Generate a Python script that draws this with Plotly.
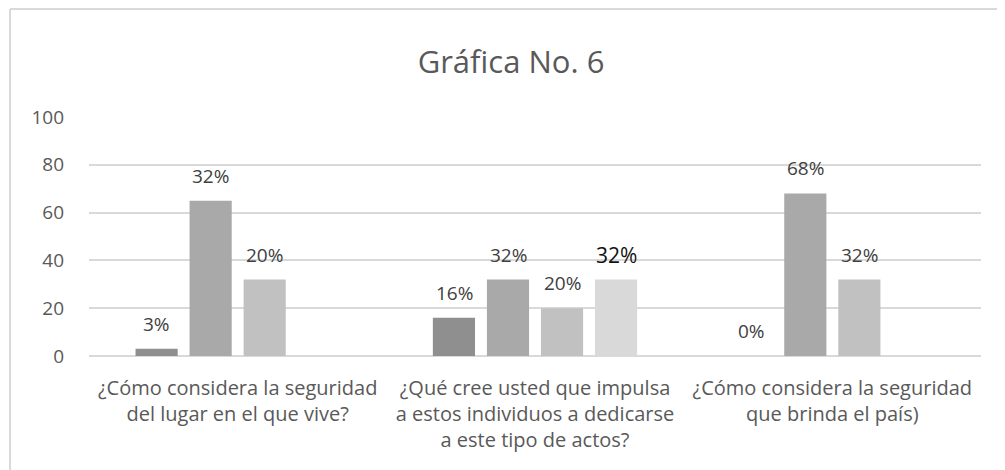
import plotly.graph_objects as go

categories = [
    "¿Cómo considera la seguridad<br>del lugar en el que vive?",
    "¿Qué cree usted que impulsa<br>a estos individuos a dedicarse<br>a este tipo de actos?",
    "¿Cómo considera la seguridad<br>que brinda el país)",
]
serie1 = [3, 16, 0]
serie2 = [65, 32, 68]
serie3 = [32, 20, 32]
serie4 = [None, 32, None]
labels1 = ["3%", "16%", "0%"]
labels2 = ["32%", "32%", "68%"]
labels3 = ["20%", "20%", "32%"]
labels4 = ["", "32%", ""]

series = [serie1, serie2, serie3, serie4]
labels = [labels1, labels2, labels3, labels4]
colors = ["#8f8f8f", "#a9a9a9", "#c1c1c1", "#d9d9d9"]

FONT = "Open Sans, Liberation Sans, Arial, sans-serif"
# page body adds an 8px offset, so the figure is kept inside the window
W, H = 997, 462
L, R, T, B = 81, 24, 109, 114

fig = go.Figure()
for i, (vals, col) in enumerate(zip(series, colors)):
    fig.add_trace(go.Bar(x=categories, y=vals, marker=dict(color=col, line=dict(width=0)),
                         name=f"Serie {i+1}", showlegend=False, hoverinfo="y"))

# data labels sitting above each bar
slot = 54
for i, (vals, labs) in enumerate(zip(series, labels)):
    for cat, v, lab in zip(categories, vals, labs):
        if v is None or lab == "":
            continue
        big = (i == 3)
        fig.add_annotation(x=cat, y=v, text=lab, showarrow=False,
                           xshift=(i - 1.5) * slot, yshift=25,
                           font=dict(size=21 if big else 19, color="#111111" if big else "#404040", family=FONT))

# chart frame: only the top and left edges show in the picture
fx0 = (2 - L) / (W - L - R)
fy1 = (H - B - 1) / (H - T - B)
frame = dict(color="#d9d9d9", width=2)
fig.add_shape(type="line", xref="paper", yref="paper", x0=fx0, x1=1.2, y0=fy1, y1=fy1, line=frame, layer="below")
fig.add_shape(type="line", xref="paper", yref="paper", x0=fx0, x1=fx0, y0=-1.0, y1=fy1, line=frame, layer="below")

fig.update_layout(
    width=W, height=H,
    margin=dict(l=L, r=R, t=T, b=B),
    paper_bgcolor="white", plot_bgcolor="white",
    barmode="group", bargap=0.273, bargroupgap=0.22,
    title=dict(text="Gráfica No. 6", x=(511 - 8) / W, xanchor="center", y=1 - 54 / H, yanchor="middle",
               font=dict(size=31, color="#595959", family=FONT)),
    font=dict(family=FONT, color="#595959", size=20),
    xaxis=dict(showgrid=False, showline=False, ticks="", tickfont=dict(size=20, color="#595959"),
               ticklabelstandoff=18),
    yaxis=dict(range=[0, 100], dtick=20, showgrid=True, gridcolor="#d9d9d9", gridwidth=1.5,
               zeroline=True, zerolinecolor="#d9d9d9", zerolinewidth=1.5,
               tickfont=dict(size=19, color="#595959"), ticks="", ticklabelstandoff=24),
)

fig.write_html("out.html")
